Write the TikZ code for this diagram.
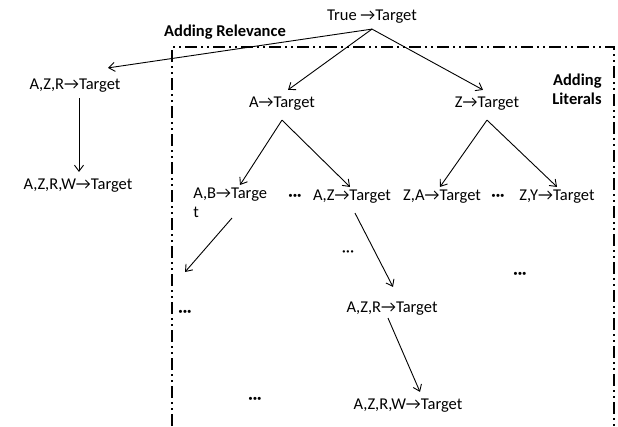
\documentclass[tikz,border=0pt]{standalone}
\usepackage{fontspec}
\setmainfont{Carlito}
\usepackage{tikz}
\usetikzlibrary{arrows.meta}
\usetikzlibrary{positioning}
\tikzset{every picture/.style={line width=0.75pt}}
\tikzset{
  lbl/.style={inner sep=1pt, font=\fontsize{16.5}{19}\selectfont},
  ttl/.style={inner sep=1pt, font=\fontsize{16.5}{19}\selectfont\bfseries},
  dots/.style={inner sep=1pt, font=\fontsize{16.5}{19}\selectfont\bfseries},
  link/.style={-{Straight Barb[length=6pt,width=9pt]}, line width=0.9pt},
  border/.style={line width=2.2pt, dash pattern=on 12pt off 4pt on 2pt off 4pt on 2pt off 4pt}
}

\begin{document}
\begin{tikzpicture}[x=1pt,y=1pt,yscale=-1,xscale=1]
\useasboundingbox (0,0) rectangle (618,426);

%Shape: literal box
\draw [border] (172,426) -- (172,47) -- (614,47) -- (614,426) ;

% Text Node
\node [lbl] (true) at (372,17) {True →Target};
% Text Node
\node [ttl] (rel) at (225,32) {Adding Relevance};
% Text Node
\node [ttl, align=right] (lit) at (577,89) {Adding\\Literals};
% Text Node
\node [lbl] (azr) at (75,86) {A,Z,R→Target};
% Text Node
\node [lbl] (azrw) at (78,186) {A,Z,R,W→Target};
% Text Node
\node [lbl] (a) at (282,104) {A→Target};
% Text Node
\node [lbl] (z) at (487,104) {Z→Target};
% Text Node
\node [lbl, anchor=north west, align=left] (ab) at (192,187) {A,B→Targe\\t};
% Text Node
\node [dots] (dotsa) at (295,197) {···};
% Text Node
\node [lbl] (az) at (352,197) {A,Z→Target};
% Text Node
\node [lbl] (za) at (442,197) {Z,A→Target};
% Text Node
\node [dots] (dotsb) at (498,197) {···};
% Text Node
\node [lbl] (zy) at (557,197) {Z,Y→Target};
% Text Node
\node [lbl] (dotsc) at (348,254) {···};
% Text Node
\node [dots] (dotsd) at (185,313) {···};
% Text Node
\node [dots] (dotse) at (520,275) {···};
% Text Node
\node [dots] (dotsf) at (255,400) {···};
% Text Node
\node [lbl] (azr2) at (392,309) {A,Z,R→Target};
% Text Node
\node [lbl] (azrw2) at (408,406) {A,Z,R,W→Target};

\coordinate (abend) at (185,272);

%Straight Lines
\draw [link] ([yshift=4pt]true.south) -- ([xshift=33pt,yshift=-10pt]azr.north);
\draw [link] ([yshift=4pt]true.south) -- ([xshift=6pt,yshift=-6pt]a.north);
\draw [link] ([yshift=4pt]true.south) -- ([xshift=-4pt,yshift=-6pt]z.north);
\draw [link] ([xshift=4pt,yshift=4pt]azr.south) -- ([xshift=1pt,yshift=-6pt]azrw.north);
\draw [link] ([yshift=8pt]a.south) -- ([xshift=48pt,yshift=-2pt]ab.north west);
\draw [link] ([yshift=8pt]a.south) -- ([xshift=-2pt,yshift=-2pt]az.north);
\draw [link] ([yshift=8pt]z.south) -- ([xshift=-2pt,yshift=-2pt]za.north);
\draw [link] ([yshift=8pt]z.south) -- ([yshift=-2pt]zy.north);
\draw [link] ([xshift=40pt,yshift=31pt]ab.north west) -- (abend);
\draw [link] ([xshift=3pt,yshift=8pt]az.south) -- ([xshift=1pt,yshift=-14pt]azr2.north);
\draw [link] ([xshift=-4pt,yshift=1pt]azr2.south) -- ([xshift=12pt,yshift=-6pt]azrw2.north);

\end{tikzpicture}
\end{document}
